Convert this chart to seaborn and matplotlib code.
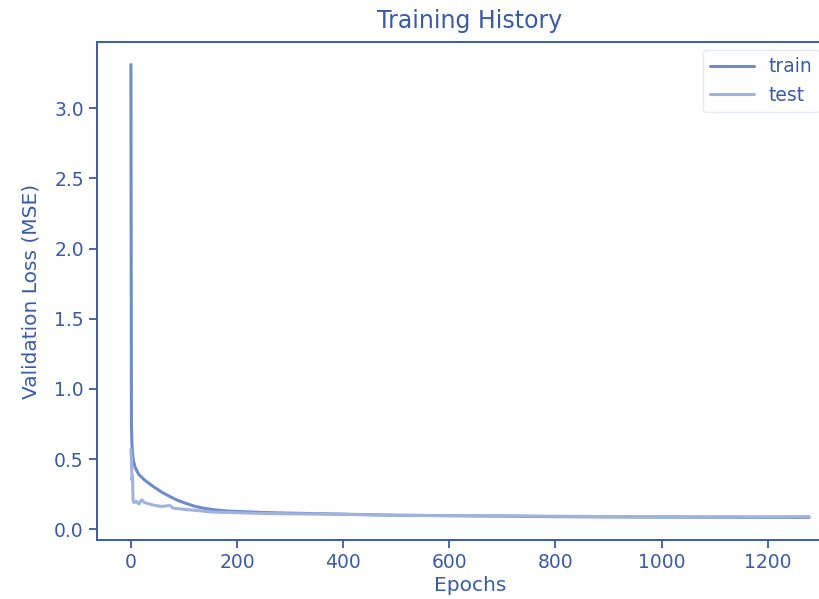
import matplotlib
matplotlib.use("Agg")
import matplotlib.pyplot as plt
import seaborn as sns
import pandas as pd

train_epochs = [0, 1, 2, 4, 8, 15, 26, 40, 58, 75, 89, 105, 121, 140, 160, 183,
                215, 247, 300, 372, 450, 500, 600, 700, 800, 900, 1000, 1100, 1200, 1278]
train_loss = [3.31, 0.75, 0.60, 0.50, 0.44, 0.39, 0.35, 0.31, 0.265, 0.23, 0.205, 0.183,
              0.163, 0.148, 0.138, 0.130, 0.125, 0.120, 0.115, 0.110, 0.104, 0.100,
              0.097, 0.094, 0.090, 0.088, 0.087, 0.086, 0.085, 0.085]

test_epochs = [0, 1, 2, 3, 4, 6, 10, 15, 20, 26, 35, 45, 58, 73, 80, 89, 105, 121,
               152, 200, 250, 300, 372, 450, 500, 600, 700, 800, 900, 1000, 1100, 1200, 1278]
test_loss = [0.57, 0.50, 0.35, 0.38, 0.21, 0.19, 0.20, 0.18, 0.21, 0.19, 0.18, 0.17,
             0.163, 0.17, 0.15, 0.147, 0.140, 0.135, 0.123, 0.118, 0.113, 0.110, 0.108,
             0.103, 0.100, 0.097, 0.096, 0.093, 0.091, 0.090, 0.089, 0.089, 0.090]

series_names = ["train", "test"]

df = pd.concat([
    pd.DataFrame({"Epochs": train_epochs, "loss": train_loss, "series": series_names[0]}),
    pd.DataFrame({"Epochs": test_epochs, "loss": test_loss, "series": series_names[1]}),
], ignore_index=True)

sns.set_theme(style="ticks")
plt.rcParams["font.family"] = ["DejaVu Sans"]

blue = "#3a5ba8"
fig = plt.figure(figsize=(8.2, 5.99), dpi=100)
ax = fig.add_axes([97 / 820, 59 / 599, 746 / 820, 498 / 599])

palette = {"train": "#6f8cc9", "test": "#a0b3dd"}
sns.lineplot(data=df, x="Epochs", y="loss", hue="series", palette=palette,
             linewidth=2.2, ax=ax)

ax.set_title("Training History", color=blue, fontsize=17, pad=10)
ax.set_xlabel("Epochs", color=blue, fontsize=14.5, labelpad=3)
ax.set_ylabel("Validation Loss (MSE)", color=blue, fontsize=14.5, labelpad=10)
ax.set_xticks([0, 200, 400, 600, 800, 1000, 1200])
ax.set_yticks([0.0, 0.5, 1.0, 1.5, 2.0, 2.5, 3.0])
ax.tick_params(colors=blue, labelsize=13.5, length=6, width=1.3)
for sp in ax.spines.values():
    sp.set_color(blue)
    sp.set_linewidth(1.4)

leg = ax.legend(loc="upper left", bbox_to_anchor=((703 - 97) / 746, (540 - 50) / 498),
                borderaxespad=0, fontsize=13.5, frameon=True, handlelength=2.3,
                handletextpad=0.8)
leg.get_frame().set_edgecolor("#dfe5f2")
for t in leg.get_texts():
    t.set_color(blue)

fig.savefig("out.png", dpi=100)
